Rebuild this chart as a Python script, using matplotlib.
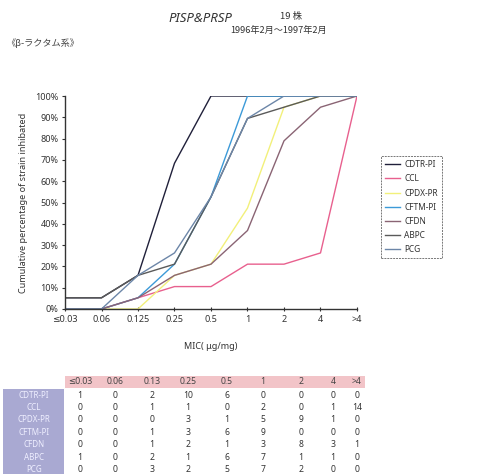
import numpy as np
import matplotlib
matplotlib.use("Agg")
from matplotlib import pyplot as plt
from matplotlib.patches import Rectangle

plt.rcParams['font.family'] = ['Noto Sans', 'DejaVu Sans']
JP = ['Noto Sans CJK JP', 'DejaVu Sans']

# MIC区分
mic_labels = ['≤0.03', '0.06', '0.125', '0.25', '0.5', '1', '2', '4', '>4']
table_heads = ['≤0.03', '0.06', '0.13', '0.25', '0.5', '1', '2', '4', '>4']

# 薬剤名と株数
drugs = ['CDTR-PI', 'CCL', 'CPDX-PR', 'CFTM-PI', 'CFDN', 'ABPC', 'PCG']
cdtr = [1, 0, 2, 10, 6, 0, 0, 0, 0]
ccl = [0, 0, 1, 1, 0, 2, 0, 1, 14]
cpdx = [0, 0, 0, 3, 1, 5, 9, 1, 0]
cftm = [0, 0, 1, 3, 6, 9, 0, 0, 0]
cfdn = [0, 0, 1, 2, 1, 3, 8, 3, 1]
abpc = [1, 0, 2, 1, 6, 7, 1, 1, 0]
pcg = [0, 0, 3, 2, 5, 7, 2, 0, 0]
counts = [cdtr, ccl, cpdx, cftm, cfdn, abpc, pcg]

colors = ['#20203a', '#e8608e', '#f2f07a', '#3c9ad8', '#8a6474', '#5a5a5a', '#6c86a8']

fig = plt.figure(figsize=(4.8, 4.74), dpi=100)

# タイトル
fig.text(200 / 480, 1 - 19 / 474, 'PISP&PRSP', fontsize=9.5, style='italic',
         ha='center', va='center', color='#333333')
fig.text(291 / 480, 1 - 17 / 474, '19 株', fontsize=6.8, family=JP,
         ha='center', va='center', color='#333333')
fig.text(279 / 480, 1 - 30 / 474, '1996年2月～1997年2月', fontsize=6.6, family=JP,
         ha='center', va='center', color='#333333')
fig.text(6 / 480, 1 - 43 / 474, '《β-ラクタム系》', fontsize=6.6, family=JP,
         ha='left', va='center', color='#444444')

# 累積阻止率グラフ
ax = fig.add_axes([65 / 480, 1 - 309 / 474, 292 / 480, 213 / 474])
x = np.arange(len(mic_labels))
for name, c, col in zip(drugs, counts, colors):
  cum = np.cumsum(c) / np.sum(c) * 100
  ax.plot(x, cum, color=col, lw=1.0, label=name)

ax.set_xlim(0, len(mic_labels) - 1)
ax.set_ylim(0, 100)
ax.set_xticks(x)
ax.set_xticklabels(mic_labels, fontsize=6.5, color='#333333')
ax.set_yticks(np.arange(0, 101, 10))
ax.set_yticklabels(['%d%%' % v for v in range(0, 101, 10)], fontsize=6.5, color='#333333')
ax.tick_params(axis='x', direction='inout', length=3, width=0.8, pad=3, colors='#333333')
ax.tick_params(axis='y', direction='out', length=2.5, width=0.8, pad=2, colors='#333333')
for s in ['top', 'right']:
  ax.spines[s].set_visible(False)
for s in ['left', 'bottom']:
  ax.spines[s].set_color('#333333')
  ax.spines[s].set_linewidth(1.0)
ax.set_xlabel('MIC( μg/mg)', fontsize=6.5, color='#333333', labelpad=13)
ax.set_ylabel('Cumulative percentage of strain inhibated', fontsize=6.5,
              color='#333333', labelpad=5)

leg = fig.legend(loc='upper left', bbox_to_anchor=(381 / 480, 1 - 156 / 474),
                 fontsize=6.0, handlelength=1.8, frameon=True, fancybox=False,
                 borderpad=0.5, labelspacing=0.62, handletextpad=0.5,
                 borderaxespad=0)
leg.get_frame().set_edgecolor('#555555')
leg.get_frame().set_linewidth(0.7)
leg.get_frame().set_linestyle((0, (2, 1)))
for t in leg.get_texts():
  t.set_color('#333333')

# 株数の表
tb = fig.add_axes([0, 0, 1, 1])
tb.set_xlim(0, 480)
tb.set_ylim(474, 0)
tb.axis('off')
col_x = [80, 115, 152, 188, 227, 263, 301, 333, 357]
row_y0 = 395
row_h = 12.4
tb.add_patch(Rectangle((65, 376), 300, 12, color='#f2c4c8', lw=0))
tb.add_patch(Rectangle((3, 389), 61, 85, color='#a9a9d2', lw=0))
for cx, h in zip(col_x, table_heads):
  tb.text(cx, 382, h, fontsize=6.2, ha='center', va='center', color='#444444')
for i, (name, c) in enumerate(zip(drugs, counts)):
  y = row_y0 + i * row_h
  tb.text(34, y, name, fontsize=5.8, ha='center', va='center', color='#eeeeff')
  for cx, v in zip(col_x, c):
    tb.text(cx, y, str(v), fontsize=6.2, ha='center', va='center', color='#333333')

fig.savefig('out.png', dpi=100)
